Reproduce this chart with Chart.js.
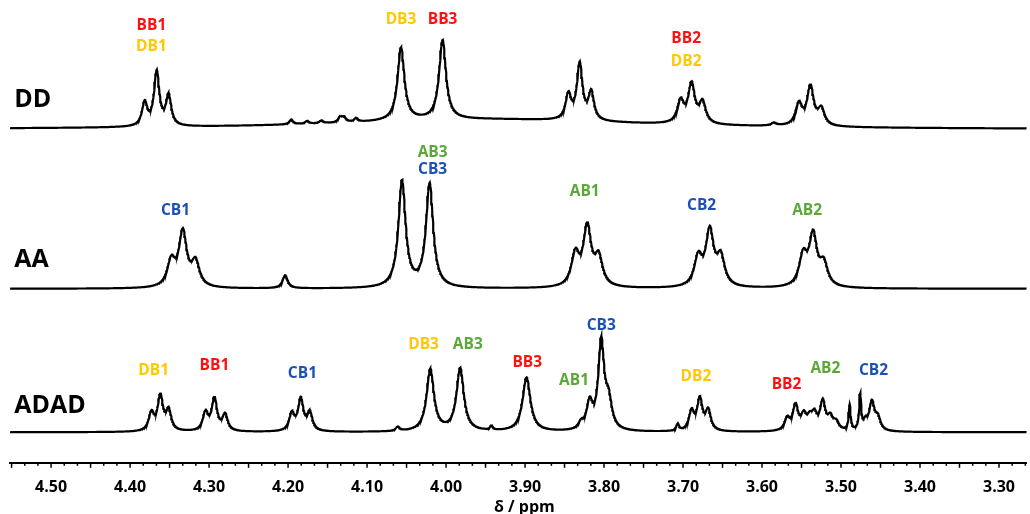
<!DOCTYPE html>
<html>
<head>
<meta charset="utf-8">
<script src="https://cdn.jsdelivr.net/npm/chart.js@4.4.0/dist/chart.umd.min.js"></script>
<style>
  html, body { margin: 0; padding: 0; background: #fff; }
</style>
</head>
<body>
<canvas id="nmr" width="1030" height="514"></canvas>
<script>
// chemical shift window (ppm), axis drawn high -> low
var ppmMin = 3.265;
var ppmMax = 4.552;
var tickValues = [4.50, 4.40, 4.30, 4.20, 4.10, 4.00, 3.90, 3.80, 3.70, 3.60, 3.50, 3.40, 3.30];
var axisTitle = 'δ / ppm';

// ---- DD spectrum: peak shifts, intensities, half widths ----
var ddBase = 72.0;
var ddShift  = [4.3815, 4.3663, 4.3512, 4.196, 4.176, 4.158, 4.134, 4.129, 4.114, 4.057, 4.0044, 3.8451, 3.8308, 3.8162, 3.703, 3.6892, 3.6753, 3.5533, 3.5387, 3.5249, 3.585, 3.95];
var ddHeight = [5.0, 11.7, 6.5, 1.0, 0.6, 0.6, 1.2, 1.0, 0.8, 15.8, 17.2, 5.4, 12.1, 6.0, 4.7, 8.4, 4.5, 4.6, 8.4, 3.5, 0.6, 2.2];
var ddWidth  = [0.004, 0.004, 0.004, 0.003, 0.003, 0.003, 0.003, 0.003, 0.003, 0.0052, 0.0052, 0.0042, 0.0042, 0.0042, 0.005, 0.005, 0.005, 0.005, 0.005, 0.005, 0.004, 0.24];

// ---- AA spectrum ----
var aaBase = 37.6;
var aaShift  = [4.3478, 4.3332, 4.3171, 4.2037, 4.0557, 4.0208, 3.8363, 3.8212, 3.8068, 3.6807, 3.6661, 3.6522, 3.5479, 3.5353, 3.5218];
var aaHeight = [5.4, 11.7, 5.2, 2.8, 23.0, 22.4, 6.8, 12.6, 6.0, 6.1, 11.7, 6.1, 6.4, 10.8, 4.7];
var aaWidth  = [0.006, 0.006, 0.006, 0.004, 0.0055, 0.0055, 0.006, 0.006, 0.006, 0.006, 0.006, 0.006, 0.006, 0.006, 0.006];

// ---- ADAD spectrum ----
var adadBase = 6.6;
var adadShift  = [4.373, 4.3617, 4.3512, 4.3045, 4.2932, 4.2797, 4.1952, 4.1839, 4.1725, 4.0612, 4.0199, 3.9821, 3.9426, 3.8981, 3.829, 3.8182, 3.8035, 3.7942, 3.7068, 3.6892, 3.6787, 3.6681, 3.5681, 3.5576, 3.5471, 3.5395, 3.5337, 3.5231, 3.5135, 3.506, 3.489, 3.4757, 3.469, 3.4609, 3.4533];
var adadHeight = [3.8, 7.5, 4.3, 3.9, 7.0, 3.5, 3.7, 6.8, 3.9, 0.9, 13.4, 13.6, 1.0, 11.7, 1.3, 5.6, 18.8, 5.8, 1.5, 4.1, 6.7, 4.3, 2.6, 5.4, 3.0, 2.2, 3.0, 6.1, 2.6, 1.7, 5.4, 7.6, 1.7, 6.1, 2.6];
var adadWidth  = [0.004, 0.004, 0.004, 0.004, 0.004, 0.004, 0.004, 0.004, 0.004, 0.003, 0.0056, 0.0056, 0.002, 0.006, 0.004, 0.0045, 0.0045, 0.005, 0.002, 0.004, 0.004, 0.004, 0.004, 0.004, 0.004, 0.004, 0.004, 0.004, 0.004, 0.004, 0.0015, 0.0015, 0.003, 0.004, 0.004];

// residue colours
var colBB = '#ff1010';
var colDB = '#ffc800';
var colAB = '#5ba83a';
var colCB = '#1c50b2';

// peak assignments: [text, ppm, level, colour]
var ddTags = [
  ['BB1', 4.373, 94.4, colBB], ['DB1', 4.373, 89.9, colDB],
  ['DB3', 4.057, 95.7, colDB], ['BB3', 4.0044, 95.7, colBB],
  ['BB2', 3.696, 91.6, colBB], ['DB2', 3.696, 86.7, colDB]
];
var aaTags = [
  ['CB1', 4.3424, 54.5, colCB], ['AB3', 4.017, 67.0, colAB], ['CB3', 4.017, 63.4, colCB],
  ['AB1', 3.8245, 58.7, colAB], ['CB2', 3.6765, 55.5, colCB], ['AB2', 3.5429, 54.6, colAB]
];
var adadTags = [
  ['DB1', 4.3701, 20.0, colDB], ['BB1', 4.2932, 20.9, colBB], ['CB1', 4.1818, 19.3, colCB],
  ['DB3', 4.0284, 25.6, colDB], ['AB3', 3.9725, 25.6, colAB], ['BB3', 3.8972, 21.7, colBB],
  ['AB1', 3.838, 17.7, colAB], ['CB3', 3.8035, 29.7, colCB], ['DB2', 3.6837, 18.7, colDB],
  ['BB2', 3.569, 16.9, colBB], ['AB2', 3.5198, 20.4, colAB], ['CB2', 3.4588, 20.0, colCB]
];
// sample names: [text, ppm, level]
var traceNames = [['DD', 4.5467, 78.4], ['AA', 4.5467, 43.8], ['ADAD', 4.5467, 12.2]];

// sum of lorentzian lines on a fixed ppm grid
function buildTrace(base, shifts, heights, widths) {
  var step = 0.0005;
  var n = Math.round((ppmMax - ppmMin) / step);
  var pts = [];
  for (var i = 0; i <= n; i++) {
    var x = ppmMin + i * step;
    var y = base;
    for (var k = 0; k < shifts.length; k++) {
      var d = x - shifts[k], w = widths[k];
      y += heights[k] * w * w / (d * d + w * w);
    }
    pts.push({ x: x, y: y });
  }
  return pts;
}

var boldFont = function(size) { return 'bold ' + size + 'px "Open Sans", "DejaVu Sans", sans-serif'; };

var peakLabels = {
  id: 'peakLabels',
  afterDatasetsDraw: function(chart) {
    var ctx = chart.ctx, xs = chart.scales.x, ys = chart.scales.y;
    ctx.save();
    ctx.textAlign = 'center';
    ctx.textBaseline = 'middle';
    ctx.font = boldFont(15.5);
    ddTags.concat(aaTags, adadTags).forEach(function(t) {
      ctx.fillStyle = t[3];
      ctx.fillText(t[0], xs.getPixelForValue(t[1]), ys.getPixelForValue(t[2]));
    });
    ctx.textAlign = 'left';
    ctx.font = boldFont(25);
    ctx.fillStyle = '#000';
    traceNames.forEach(function(t) {
      ctx.fillText(t[0], xs.getPixelForValue(t[1]), ys.getPixelForValue(t[2]));
    });
    ctx.restore();
  }
};

// major ticks every 0.05 ppm, two minor ticks in between, plus the axis title
var axisTicks = {
  id: 'axisTicks',
  afterDraw: function(chart) {
    var ctx = chart.ctx, xs = chart.scales.x, area = chart.chartArea, y0 = area.bottom;
    ctx.save();
    ctx.strokeStyle = '#000';
    ctx.lineWidth = 1.5;
    for (var i = 0; ; i++) {
      var v = 4.55 - i * 0.05 / 3;
      if (v < ppmMin) break;
      var px = xs.getPixelForValue(v);
      var len = (i % 3 === 0) ? 5 : 3;
      ctx.beginPath();
      ctx.moveTo(px, y0);
      ctx.lineTo(px, y0 + len);
      ctx.stroke();
    }
    ctx.fillStyle = '#000';
    ctx.font = boldFont(16);
    ctx.textAlign = 'center';
    ctx.textBaseline = 'middle';
    ctx.fillText(axisTitle, (area.left + area.right) / 2 + 6, y0 + 45);
    ctx.restore();
  }
};

var traceStyle = { borderColor: '#000', borderWidth: 2.2, pointRadius: 0, tension: 0, fill: false };

new Chart(document.getElementById('nmr'), {
  type: 'line',
  data: {
    datasets: [
      Object.assign({ label: 'DD', data: buildTrace(ddBase, ddShift, ddHeight, ddWidth) }, traceStyle),
      Object.assign({ label: 'AA', data: buildTrace(aaBase, aaShift, aaHeight, aaWidth) }, traceStyle),
      Object.assign({ label: 'ADAD', data: buildTrace(adadBase, adadShift, adadHeight, adadWidth) }, traceStyle)
    ]
  },
  options: {
    responsive: false,
    animation: false,
    layout: { padding: { left: 10, right: 0, top: 0, bottom: 2 } },
    plugins: { legend: { display: false }, tooltip: { enabled: false } },
    scales: {
      x: {
        type: 'linear',
        reverse: true,
        min: ppmMin,
        max: ppmMax,
        afterBuildTicks: function(scale) {
          scale.ticks = tickValues.map(function(v) { return { value: v }; });
        },
        grid: { display: false, drawTicks: false },
        border: { display: true, color: '#000', width: 2 },
        ticks: {
          padding: 15,
          color: '#000',
          autoSkip: false,
          maxRotation: 0,
          font: { family: '"Open Sans"', weight: 'bold', size: 16 },
          callback: function(v) { return v.toFixed(2); }
        },
        title: { display: false }
      },
      y: { display: false, min: 0, max: 100 }
    }
  },
  plugins: [peakLabels, axisTicks]
});
</script>
</body>
</html>
